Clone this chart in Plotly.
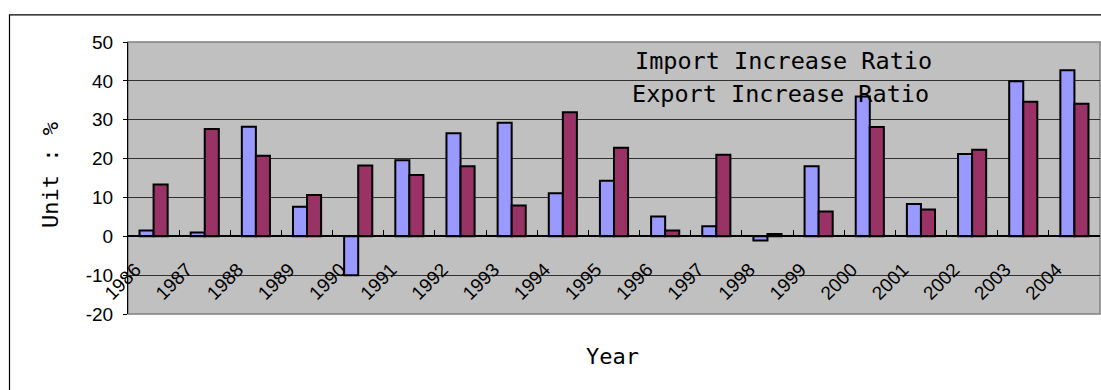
import plotly.graph_objects as go

years = [str(y) for y in range(1986, 2005)]
import_ratio = [1.5, 1.0, 28.2, 7.6, -10.0, 19.6, 26.5, 29.2, 11.1, 14.3, 5.1, 2.6, -1.1, 18.0, 36.0, 8.3, 21.2, 39.9, 42.7]
export_ratio = [13.3, 27.6, 20.7, 10.6, 18.2, 15.8, 18.0, 7.9, 31.9, 22.8, 1.5, 21.0, 0.6, 6.4, 28.1, 6.9, 22.3, 34.6, 34.1]
series_names = ["Import Increase Ratio", "Export Increase Ratio"]
y_ticks = [50, 40, 30, 20, 10, 0, -10, -20]
y_ticktext = ["50", "40", "30", "20", "10", "0", "-10", "-20"]

W, H = 1101, 390
L, R, T, B = 128, 1100, 41.7, 314.3
pw, ph = R - L, B - T

def px(x):
    return (x - L) / pw

def py(y):
    return (B - y) / ph

mono = "DejaVu Sans Mono"
sans = "Liberation Sans, Arial, sans-serif"

fig = go.Figure()
fig.add_trace(go.Bar(x=years, y=import_ratio, name=series_names[0],
                     marker=dict(color="#9999FF", line=dict(color="black", width=2))))
fig.add_trace(go.Bar(x=years, y=export_ratio, name=series_names[1],
                     marker=dict(color="#993366", line=dict(color="black", width=2))))

ymin, ymax = -20, 50
fig.update_layout(
    width=W, height=H,
    margin=dict(l=L, r=W - R, t=T, b=H - B, pad=0),
    paper_bgcolor="white",
    plot_bgcolor="#C0C0C0",
    barmode="group", bargap=0.45, bargroupgap=0,
    showlegend=False,
    font=dict(family=sans, color="black"),
    xaxis=dict(
        type="category", anchor="free", position=(0 - ymin) / (ymax - ymin),
        showline=True, linecolor="black", linewidth=1.5,
        ticks="inside", ticklen=6, tickcolor="black", tickwidth=1,
        tickson="boundaries", showgrid=False,
        tickangle=-45, tickfont=dict(family=sans, size=19, color="black"),
        ticklabelshift=-18, ticklabelstandoff=14,
    ),
    yaxis=dict(
        range=[ymin, ymax], tickvals=y_ticks, ticktext=y_ticktext,
        showline=True, linecolor="black", linewidth=1.2,
        ticks="outside", ticklen=4, tickcolor="black",
        showgrid=True, gridcolor="#303030", gridwidth=1,
        zeroline=False,
        tickfont=dict(family=sans, size=19, color="black"),
        ticklabelstandoff=6,
    ),
)

# plot-area frame (top/right/bottom in grey)
fig.add_shape(type="rect", xref="paper", yref="paper", x0=0, x1=1, y0=0, y1=1,
              line=dict(color="#808080", width=1.5), layer="below")
# outer chart border
fig.add_shape(type="rect", xref="paper", yref="paper",
              x0=px(9.5), x1=px(1130), y0=py(420), y1=py(14.5),
              line=dict(color="black", width=1.2))

# legend text
fig.add_annotation(xref="paper", yref="paper", x=px(633), y=py(61), xanchor="left", yanchor="middle",
                   text=series_names[0], showarrow=False, font=dict(family=mono, size=23.5, color="black"))
fig.add_annotation(xref="paper", yref="paper", x=px(630), y=py(94), xanchor="left", yanchor="middle",
                   text=series_names[1], showarrow=False, font=dict(family=mono, size=23.5, color="black"))

# axis titles
fig.add_annotation(xref="paper", yref="paper", x=px(50), y=py(175), xanchor="center", yanchor="middle",
                   text="Unit : %", textangle=-90, showarrow=False, font=dict(family=mono, size=22, color="black"))
fig.add_annotation(xref="paper", yref="paper", x=px(612), y=py(357), xanchor="center", yanchor="middle",
                   text="Year", showarrow=False, font=dict(family=mono, size=22, color="black"))

fig.write_html("out.html")
